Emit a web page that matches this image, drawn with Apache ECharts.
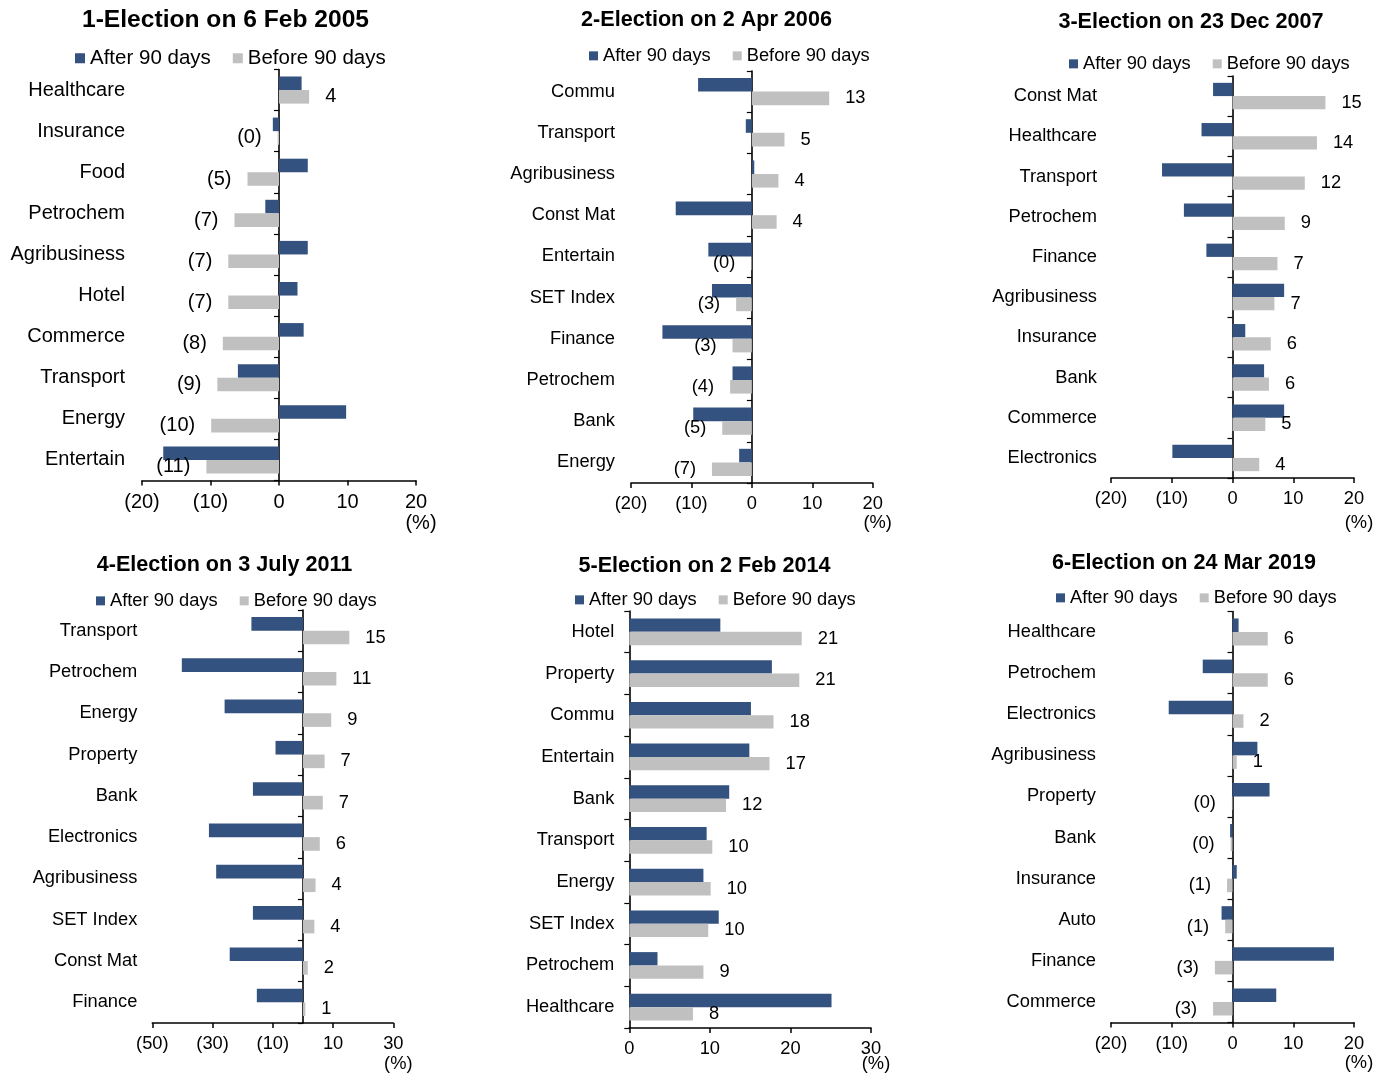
<!DOCTYPE html>
<html><head><meta charset="utf-8">
<script src="https://cdn.jsdelivr.net/npm/echarts@6/dist/echarts.min.js"></script>
<style>html,body{margin:0;padding:0;background:#fff}#main{width:1387px;height:1075px}</style>
</head><body><div id="main"></div>
<script>
// ---------------- DATA ----------------
const seriesNames = ['After 90 days', 'Before 90 days'];
const titles = [
  '1-Election on 6 Feb 2005',
  '2-Election on 2 Apr 2006',
  '3-Election on 23 Dec 2007',
  '4-Election on 3 July 2011',
  '5-Election on 2 Feb 2014',
  '6-Election on 24 Mar 2019'
];

const cat1 = ['Healthcare','Insurance','Food','Petrochem','Agribusiness','Hotel','Commerce','Transport','Energy','Entertain'];
const after1 = [3.3, -0.9, 4.2, -2.0, 4.2, 2.7, 3.6, -6.0, 9.8, -16.9];
const before1 = [4.4, -0.2, -4.6, -6.5, -7.4, -7.4, -8.2, -9.0, -9.9, -10.6];

const cat2 = ['Commu','Transport','Agribusiness','Const Mat','Entertain','SET Index','Finance','Petrochem','Bank','Energy'];
const after2 = [-8.9, -1.0, 0.4, -12.6, -7.2, -6.6, -14.8, -3.2, -9.7, -2.1];
const before2 = [12.8, 5.4, 4.4, 4.1, -0.1, -2.6, -3.2, -3.6, -4.9, -6.6];

const cat3 = ['Const Mat','Healthcare','Transport','Petrochem','Finance','Agribusiness','Insurance','Bank','Commerce','Electronics'];
const after3 = [-3.2, -5.1, -11.6, -8.0, -4.3, 8.5, 2.1, 5.2, 8.5, -9.9];
const before3 = [15.3, 13.9, 11.9, 8.6, 7.4, 6.9, 6.3, 6.0, 5.4, 4.4];

const cat4 = ['Transport','Petrochem','Energy','Property','Bank','Electronics','Agribusiness','SET Index','Const Mat','Finance'];
const after4 = [-17.1, -40.2, -26.0, -9.1, -16.6, -31.2, -28.8, -16.6, -24.3, -15.3];
const before4 = [15.4, 11.1, 9.4, 7.2, 6.6, 5.6, 4.2, 3.8, 1.6, 0.8];

const cat5 = ['Hotel','Property','Commu','Entertain','Bank','Transport','Energy','SET Index','Petrochem','Healthcare'];
const after5 = [11.3, 17.7, 15.1, 14.9, 12.4, 9.6, 9.2, 11.1, 3.5, 25.1];
const before5 = [21.4, 21.1, 17.9, 17.4, 12.0, 10.3, 10.1, 9.8, 9.2, 7.9];

const cat6 = ['Healthcare','Petrochem','Electronics','Agribusiness','Property','Bank','Insurance','Auto','Finance','Commerce'];
const after6 = [1.0, -4.9, -10.5, 4.1, 6.1, -0.4, 0.7, -1.8, 16.7, 7.2];
const before6 = [5.8, 5.8, 1.8, 0.7, -0.1, -0.3, -0.9, -1.2, -2.9, -3.2];

// x axis ticks: [min, max, interval]
const xTicks1 = [-20, 20, 10];
const xTicks2 = [-20, 20, 10];
const xTicks3 = [-20, 20, 10];
const xTicks4 = [-50, 30, 20];
const xTicks5 = [0, 30, 10];
const xTicks6 = [-20, 20, 10];
const unitLabel = '(%)';

// ---------------- LAYOUT ----------------
const panels = [
  {cat: cat1, after: after1, before: before1, ticks: xTicks1,
   grid: {left: 142, top: 69.5, width: 274, height: 411},
   title: {x: 225.5, y: 8, size: 24.6}, legend: {left: 75, cy: 59, size: 20.5, icon: 10},
   font: 20, catMargin: 17, pct: 43, bw: '33%'},
  {cat: cat2, after: after2, before: before2, ticks: xTicks2,
   grid: {left: 631, top: 71, width: 241.7, height: 412},
   title: {x: 706.5, y: 9, size: 21.6}, legend: {left: 589, cy: 57, size: 18.3, icon: 9},
   font: 18.3, catMargin: 16, pct: 40, bw: '33%'},
  {cat: cat3, after: after3, before: before3, ticks: xTicks3,
   grid: {left: 1111, top: 76, width: 243, height: 402},
   title: {x: 1191, y: 11, size: 21.6}, legend: {left: 1069, cy: 65, size: 18.3, icon: 9},
   font: 18.3, catMargin: 14, pct: 45, bw: '33%'},
  {cat: cat4, after: after4, before: before4, ticks: xTicks4,
   grid: {left: 152.3, top: 610, width: 241, height: 413},
   title: {x: 224.5, y: 554, size: 21.6}, legend: {left: 96, cy: 602, size: 18.3, icon: 9},
   font: 18.3, catMargin: 15, pct: 41, bw: '33%'},
  {cat: cat5, after: after5, before: before5, ticks: xTicks5,
   grid: {left: 629.3, top: 611, width: 241.7, height: 417},
   title: {x: 704.5, y: 555, size: 21.6}, legend: {left: 575, cy: 601, size: 18.3, icon: 9},
   font: 18.3, catMargin: 15, pct: 36, bw: '32%'},
  {cat: cat6, after: after6, before: before6, ticks: xTicks6,
   grid: {left: 1111, top: 611.5, width: 243, height: 411},
   title: {x: 1184, y: 552, size: 21.6}, legend: {left: 1056, cy: 599, size: 18.3, icon: 9},
   font: 18.3, catMargin: 15, pct: 41, bw: '33%'}
];

const FONT = '"Liberation Sans", Arial, sans-serif';
const NAVY = '#34527f';
const GRAY = '#c0c0c0';

function fmt(v) {
  const r = Math.round(Math.abs(v));
  return v < 0 ? '(' + r + ')' : String(r);
}

const option = {
  animation: false,
  backgroundColor: '#fff',
  title: [], legend: [], grid: [], xAxis: [], yAxis: [], series: []
};

panels.forEach((p, i) => {
  option.title.push({
    text: titles[i], left: p.title.x, top: p.title.y, textAlign: 'center', padding: 0,
    textStyle: {fontFamily: FONT, fontWeight: 'bold', fontSize: p.title.size, color: '#000'}
  });
  option.legend.push({
    left: p.legend.left, top: p.legend.cy - p.legend.size / 2 - 1, padding: 0,
    itemWidth: p.legend.icon, itemHeight: p.legend.icon, itemGap: 22, icon: 'rect',
    data: seriesNames, selectedMode: false,
    textStyle: {fontFamily: FONT, fontSize: p.legend.size, color: '#000'}
  });
  option.grid.push(Object.assign({containLabel: false, outerBoundsMode: 'none'}, p.grid));
  option.xAxis.push({
    gridIndex: i, type: 'value', min: p.ticks[0], max: p.ticks[1], interval: p.ticks[2],
    name: unitLabel, nameLocation: 'end', nameGap: 5, nameMoveOverlap: false,
    nameTextStyle: {fontFamily: FONT, fontSize: p.font, color: '#000', align: 'center',
      verticalAlign: 'top', padding: [p.pct - p.font / 2, 0, 0, 0]},
    axisLine: {show: true, lineStyle: {color: '#000', width: 1.6}},
    axisTick: {show: true, length: 5, lineStyle: {color: '#000', width: 1.5}},
    splitLine: {show: false},
    axisLabel: {fontFamily: FONT, fontSize: p.font, color: '#000', margin: 12, formatter: v => fmt(v)}
  });
  option.yAxis.push({
    gridIndex: i, type: 'category', data: p.cat, inverse: true,
    axisLine: {show: true, onZero: true, lineStyle: {color: '#000', width: 1.6}},
    axisTick: {show: true, length: 5, lineStyle: {color: '#000', width: 1.2}},
    splitLine: {show: false},
    axisLabel: {fontFamily: FONT, fontSize: p.font, color: '#000', margin: p.catMargin}
  });
  option.series.push({
    name: seriesNames[0], type: 'bar', xAxisIndex: i, yAxisIndex: i,
    barWidth: p.bw, barGap: '0%', itemStyle: {color: NAVY},
    data: p.after
  });
  option.series.push({
    name: seriesNames[1], type: 'bar', xAxisIndex: i, yAxisIndex: i,
    barWidth: p.bw, barGap: '0%', itemStyle: {color: GRAY},
    label: {show: true, distance: 16, fontFamily: FONT, fontSize: p.font, color: '#000',
      formatter: prm => fmt(prm.value)},
    data: p.before.map(v => ({value: v, label: {position: v < 0 ? 'left' : 'right'}}))
  });
});

const chart = echarts.init(document.getElementById('main'), null, {renderer: 'canvas'});
chart.setOption(option);
</script>
</body></html>
